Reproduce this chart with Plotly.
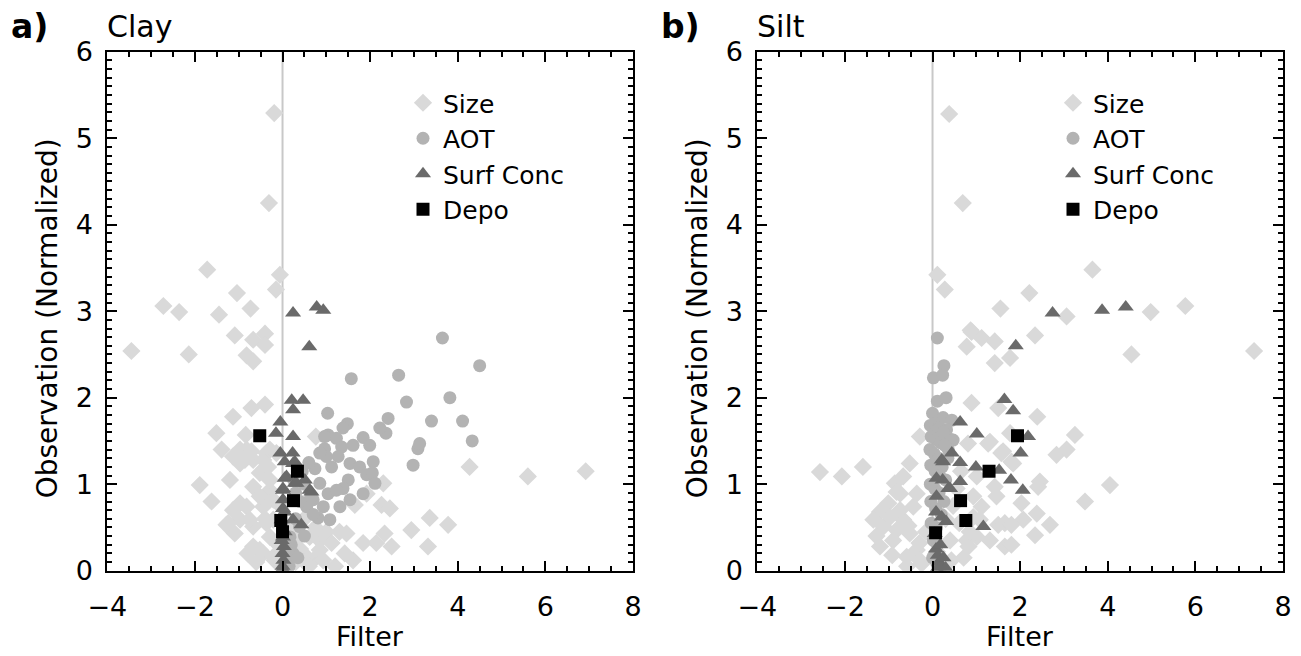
import plotly.graph_objects as go

# ---------------- Clay panel (a) ----------------
clay_size_x = [-0.19, -0.31, -1.72, -0.06, -0.15, -1.04, -2.72, -2.36, -1.45, -0.73,
               -3.45, -2.14, -1.09, -0.67, -0.40, -0.40, -0.82, -0.67,
               -0.40, -0.71, -1.13, -1.51, -0.84, -1.39, -1.89, -1.62, -1.20, -1.13, -0.97, -0.82,
               -0.67, -0.52, -0.37, -0.33, -1.13, -0.97, -1.28, -1.09, -0.82, -0.67, -0.67, -0.44,
               -0.29, -0.44, -0.29, -0.21, -0.18, 0.76, 0.85, 0.70,
               -0.97, -0.71, -0.86, -0.44, -0.29, -0.14, -0.67, -0.97, -0.52, -0.29, -0.21, -1.24,
               -0.75, -0.37, -0.52, -0.21,
               2.30, 2.26, 2.45, 1.65, 3.36, 2.94, 3.78, 3.32, 2.33, 2.49, 2.14, 1.84, 1.46, 1.61,
               1.42, 1.00, 1.12, 0.85, 0.62, 0.55, 0.93, 1.92, 4.27, 5.60, 6.92,
               0.10, 0.30, -0.10, 0.20, 0.40, 0.60, 0.50, -0.40, -0.60, -0.80, 1.20, 0.35, 0.75,
               1.30, -0.05]
clay_size_y = [5.29, 4.25, 3.48, 3.42, 3.25, 3.21, 3.06, 2.99, 2.96, 3.03,
               2.54, 2.50, 2.72, 2.67, 2.74, 2.61, 2.49, 2.42,
               1.92, 1.88, 1.78, 1.59, 1.57, 1.40, 0.99, 0.80, 1.05, 1.32, 1.24, 1.40,
               1.28, 1.13, 1.36, 1.20, 0.70, 0.59, 0.53, 0.43, 0.74, 0.51, 0.28, 0.20,
               0.39, 0.74, 0.93, 0.59, 0.12, 1.55, 0.35, 0.12,
               1.40, 1.38, 1.28, 1.28, 1.40, 1.36, 0.97, 0.78, 0.86, 1.05, 0.82, 0.55,
               0.59, 0.55, 0.24, 0.16,
               1.01, 0.76, 0.72, 0.76, 0.61, 0.47, 0.53, 0.28, 0.43, 0.28, 0.32, 0.32, 0.43, 0.12,
               0.20, 0.45, 0.32, 0.24, 0.39, 0.16, 0.12, 0.89, 1.20, 1.09, 1.15,
               0.05, 0.10, 0.30, 0.50, 0.25, 0.05, 0.60, 0.60, 0.10, 0.20, 0.05, 0.40, 0.50,
               0.45, 0.75]

clay_aot_x = [3.65, 4.50, 1.57, 2.65, 2.83, 3.82, 1.03, 3.40, 4.11, 4.33, 2.41, 2.36, 2.22,
              1.48, 1.38, 3.09, 3.13, 2.98, 1.04, 1.23, 1.84, 1.99, 1.61, 0.96, 1.35, 1.00,
              1.27, 1.54, 2.07, 1.76, 0.74, 1.12, 1.92, 2.05, 2.11, 1.50, 1.38, 1.84, 0.85,
              1.04, 1.23, 1.54, 1.31, 0.93, 1.08, 0.81, 0.70, 0.55,
              0.96, 0.85, 0.62, 0.39, 0.24, 0.17, 0.09,
              0.15, 0.20, 0.30, 0.40, 0.50, 0.45, 0.60, 0.30, 0.50, 0.70, 0.25, 0.12, 0.35]
clay_aot_y = [2.69, 2.37, 2.22, 2.26, 1.95, 2.00, 1.82, 1.73, 1.73, 1.50, 1.76, 1.59, 1.65,
              1.70, 1.65, 1.41, 1.47, 1.22, 1.57, 1.53, 1.54, 1.45, 1.45, 1.41, 1.43, 1.32,
              1.32, 1.24, 1.26, 1.20, 1.18, 1.20, 1.11, 1.13, 1.01, 1.05, 0.95, 0.89, 1.01,
              0.89, 0.93, 0.82, 0.74, 0.74, 0.59, 0.61, 0.82, 0.74,
              1.55, 1.36, 0.82, 0.51, 0.20, 0.39, 0.12,
              0.05, 0.30, 0.60, 0.80, 1.00, 1.15, 1.25, 0.90, 0.40, 0.65, 1.05, 0.22, 0.15]

clay_surf_x = [0.24, 0.78, 0.93, 0.61, 0.21, 0.47, 0.24, -0.05, -0.15, 0.24, -0.05, 0.23,
               0.05, 0.24, 0.09, 0.28, 0.51, 0.62, 0.01, 0.01, 0.05, 0.24, 0.43, -0.02, 0.01,
               0.28, 0.05, 0.32, 0.01, 0.01, 0.66,
               0.00, 0.02, 0.00, 0.03, -0.02, 0.05, 0.00]
clay_surf_y = [2.98, 3.05, 3.01, 2.59, 1.97, 1.97, 1.86, 1.72, 1.59, 1.55, 1.36, 1.36,
               1.26, 1.24, 1.09, 1.01, 1.05, 0.93, 0.93, 0.82, 0.68, 0.59, 0.53, 0.59, 0.39,
               1.26, 1.07, 1.01, 0.95, 0.72, 0.91,
               0.05, 0.12, 0.20, 0.28, 0.35, 0.45, 0.02]

clay_depo_x = [-0.52, 0.34, 0.25, -0.04, 0.00]
clay_depo_y = [1.56, 1.15, 0.81, 0.58, 0.45]

# ---------------- Silt panel (b) ----------------
silt_size_x = [0.38, 0.69, 0.11, 0.28, 0.87, 3.65, 2.21, 1.55, 3.06, 4.98, 5.77,
               7.34, 4.54, 2.34, 0.89, 1.12, 1.42, 0.78, 1.42, 1.77,
               0.89, 1.50, 2.39, 3.25, 1.31, 1.77, 0.81, 2.83, 3.06, 1.61, 1.84, 4.05, 3.48,
               2.45, 2.41, 1.42, 1.01, 2.03, 2.07, 2.38, 2.68, 2.34, 1.50, 1.65, 1.80, 1.65,
               1.80, 1.31, 1.01, 0.78, 0.93, 1.08,
               1.27, 1.57, 1.80, 1.46, 1.12, 0.93, 0.61, 0.82, 0.40, 0.71, 0.43, 0.85, 0.20,
               0.47, 0.55, 0.30, 0.10, 0.65,
               -2.57, -2.07, -1.59, -0.29, -0.52, -0.86, -0.67, -0.74, -1.01, -1.20, -1.35,
               -1.12, -0.82, -1.20, -0.90, -0.67, -0.44, -0.36, -0.52, -0.36, -0.59, -0.29,
               -0.82, -0.74, -0.97, -1.28, -0.55, -0.92, -0.30, -0.58, -0.15, -0.25]
silt_size_y = [5.28, 4.25, 3.42, 3.25, 2.78, 3.48, 3.21, 3.03, 2.94, 2.99, 3.06,
               2.54, 2.50, 2.72, 2.76, 2.69, 2.65, 2.59, 2.40, 2.46,
               1.94, 1.88, 1.78, 1.57, 1.49, 1.59, 1.47, 1.34, 1.40, 1.38, 1.24, 0.99, 0.80,
               1.03, 0.97, 0.97, 1.09, 0.78, 0.59, 0.66, 0.53, 0.41, 0.53, 0.55, 0.53, 0.28,
               0.30, 0.35, 0.39, 0.35, 0.86, 0.59,
               1.47, 1.36, 1.26, 0.86, 0.74, 0.62, 0.55, 0.28, 0.35, 0.15, 0.12, 0.45, 0.05,
               0.75, 0.95, 0.60, 0.22, 1.15,
               1.14, 1.09, 1.20, 1.55, 1.24, 1.01, 1.09, 0.89, 0.78, 0.68, 0.59,
               0.51, 0.47, 0.28, 0.35, 0.59, 0.74, 0.89, 0.43, 0.24, 0.16, 0.12,
               0.91, 0.70, 0.62, 0.40, 0.52, 0.18, 0.32, 0.05, 0.45, 0.08]

silt_aot_x = [0.11, 0.26, 0.02, 0.23, 0.11, 0.31, 0.00, 0.24, 0.44, 0.47, 0.40, 0.36, 0.32,
              -0.05, 0.05, 0.15, 0.25, -0.03, 0.08, 0.18, 0.28, 0.35, -0.06, 0.04, 0.14,
              0.22, -0.04, 0.06, 0.16, 0.30, -0.05, 0.05, 0.15, 0.26, -0.04, 0.07, 0.20,
              -0.03, 0.09, 0.02, 0.12, 0.00, 0.10]
silt_aot_y = [2.69, 2.37, 2.23, 2.26, 1.96, 2.00, 1.82, 1.77, 1.74, 1.51, 1.52, 1.40, 1.63,
              1.68, 1.70, 1.65, 1.60, 1.55, 1.52, 1.48, 1.45, 1.30, 1.40, 1.35, 1.30,
              1.20, 1.22, 1.15, 1.10, 1.05, 1.00, 0.95, 0.90, 0.80, 0.80, 0.72, 0.65,
              0.55, 0.50, 0.35, 0.30, 0.15, 0.08]

silt_surf_x = [2.74, 3.87, 4.41, 1.90, 1.64, 1.84, 0.63, 1.01, 2.18, 2.01, 0.44, 0.63, 0.99,
               1.52, 1.79, 2.06, 0.63, 0.36, 1.16, 0.24, 0.23,
               0.21, 0.09, 0.40, 0.09, 0.21, 0.08, 0.05, 0.31,
               0.10, 0.15, 0.12, 0.20, 0.25, 0.08, 0.30, 0.18]
silt_surf_y = [2.98, 3.01, 3.05, 2.60, 1.98, 1.85, 1.72, 1.58, 1.55, 1.36, 1.36, 1.25, 1.20,
               1.16, 1.05, 0.93, 1.03, 0.95, 0.51, 1.26, 1.05,
               1.28, 1.07, 0.95, 0.86, 0.62, 0.68, 0.43, 0.57,
               0.02, 0.10, 0.18, 0.05, 0.15, 0.25, 0.03, 0.30]

silt_depo_x = [1.94, 1.29, 0.64, 0.76, 0.07]
silt_depo_y = [1.56, 1.15, 0.81, 0.58, 0.44]

# ---------------- styling ----------------
FONT = "DejaVu Sans"
SERIES = [
    ("Size", "diamond", 14, "#d9d9d9"),
    ("AOT", "circle", 13, "#b3b3b3"),
    ("Surf Conc", "triangle-up", 14, "#6a6a6a"),
    ("Depo", "square", 13, "#000000"),
]

panels = [
    dict(xa="x", ya="y", legend="legend",
         data=[(clay_size_x, clay_size_y), (clay_aot_x, clay_aot_y),
               (clay_surf_x, clay_surf_y), (clay_depo_x, clay_depo_y)]),
    dict(xa="x2", ya="y2", legend="legend2",
         data=[(silt_size_x, silt_size_y), (silt_aot_x, silt_aot_y),
               (silt_surf_x, silt_surf_y), (silt_depo_x, silt_depo_y)]),
]

fig = go.Figure()
for p in panels:
    for (name, sym, size, color), (xs, ys) in zip(SERIES, p["data"]):
        fig.add_trace(go.Scatter(
            x=xs, y=ys, mode="markers", name=name,
            marker=dict(symbol=sym, size=size, color=color, line=dict(width=0)),
            xaxis=p["xa"], yaxis=p["ya"], legend=p["legend"], showlegend=True,
        ))

W, H = 1301, 656
def px(v):
    return v / W
def py(v):
    return 1 - v / H

y_dom = [py(570.7), py(51.7)]
x_doms = [[px(107.3), px(633.0)], [px(757.3), px(1283.0)]]

axis_common = dict(
    showline=True, linecolor="black", linewidth=2, mirror="allticks",
    ticks="inside", ticklen=10, tickwidth=2, tickcolor="black",
    showgrid=False, zeroline=False, automargin=False,
    tickfont=dict(family=FONT, size=27, color="black"),
)

layout = dict(
    width=W, height=H, autosize=False,
    margin=dict(l=0, r=0, t=0, b=0, autoexpand=False),
    paper_bgcolor="white", plot_bgcolor="white",
    showlegend=True,
)
for i, dom in enumerate(x_doms):
    sfx = "" if i == 0 else str(i + 1)
    layout["xaxis" + sfx] = dict(
        axis_common, domain=dom, range=[-4, 8], tickmode="linear", tick0=-4, dtick=2,
        anchor="y" + sfx, ticklabelstandoff=11,
        minor=dict(ticks="inside", ticklen=5, tickwidth=1.5, tickcolor="black", dtick=0.5),
    )
    layout["yaxis" + sfx] = dict(
        axis_common, domain=y_dom, range=[0, 6], tickmode="linear", tick0=0, dtick=1,
        anchor="x" + sfx, ticklabelstandoff=7,
        minor=dict(ticks="inside", ticklen=5, tickwidth=1.5, tickcolor="black", dtick=0.1),
    )

legend_common = dict(
    font=dict(family=FONT, size=25, color="black"),
    bgcolor="rgba(0,0,0,0)", borderwidth=0, itemsizing="trace",
    xanchor="left", yanchor="top", tracegroupgap=0,
)
layout["legend"] = dict(legend_common, x=px(403), y=py(80))
layout["legend2"] = dict(legend_common, x=px(1053), y=py(80))

fig.update_layout(**layout)

# reference line at zero filter value, behind the markers
for sfx in ["", "2"]:
    fig.add_shape(type="line", xref="x" + sfx, yref="y" + sfx + " domain",
                  x0=0, x1=0, y0=0, y1=1, layer="below",
                  line=dict(color="#c8c8c8", width=2))

# panel labels, titles, axis titles
for left, tag, title in [(107.3, "a)", "Clay"), (757.3, "b)", "Silt")]:
    fig.add_annotation(text=tag, x=px(left - 98), y=py(27), xref="paper", yref="paper",
                       xanchor="left", yanchor="middle", showarrow=False,
                       font=dict(family=FONT, size=33, color="black", weight="bold"))
    fig.add_annotation(text=title, x=px(left - 2), y=py(26), xref="paper", yref="paper",
                       xanchor="left", yanchor="middle", showarrow=False,
                       font=dict(family=FONT, size=30, color="black"))
    fig.add_annotation(text="Observation (Normalized)", x=px(left - 60), y=py(318),
                       xref="paper", yref="paper", textangle=-90,
                       xanchor="center", yanchor="middle", showarrow=False,
                       font=dict(family=FONT, size=28, color="black"))
    fig.add_annotation(text="Filter", x=px(left + 263), y=py(636),
                       xref="paper", yref="paper",
                       xanchor="center", yanchor="middle", showarrow=False,
                       font=dict(family=FONT, size=27, color="black"))

fig.write_html("out.html")
